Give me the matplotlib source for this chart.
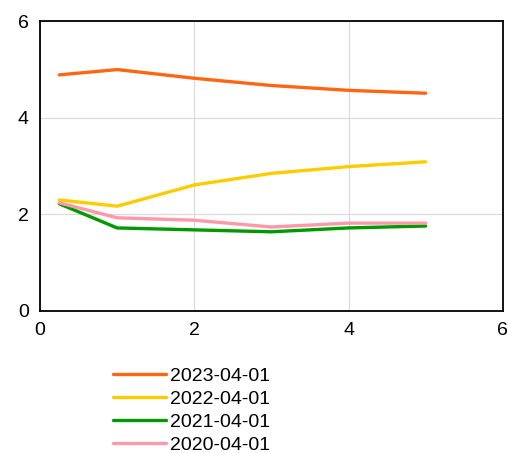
import matplotlib.pyplot as plt

plt.rcParams['font.family'] = ['Liberation Sans', 'DejaVu Sans']

x = [0.25, 1, 2, 3, 4, 5]
labels = ['2023-04-01', '2022-04-01', '2021-04-01', '2020-04-01']
y2023 = [4.89, 5.00, 4.82, 4.67, 4.57, 4.51]
y2022 = [2.30, 2.17, 2.61, 2.85, 2.99, 3.09]
y2021 = [2.22, 1.72, 1.68, 1.64, 1.72, 1.76]
y2020 = [2.24, 1.93, 1.88, 1.74, 1.82, 1.82]
colors = ['#FF6611', '#FFCC00', '#009900', '#FF99AA']

fig = plt.figure(figsize=(5.08, 4.53), dpi=100)
ax = fig.add_axes([0.0787, 0.3135, 0.911, 0.6395])

for ys, lab, c in zip([y2023, y2022, y2021, y2020], labels, colors):
    ax.plot(x, ys, color=c, lw=2.4, label=lab, solid_capstyle='round')

ax.set_xlim(0, 6)
ax.set_ylim(0, 6)
ax.set_xticks([0, 2, 4, 6])
ax.set_yticks([0, 2, 4, 6])
ax.grid(True, color='#D9D9D9', lw=0.8)
ax.set_axisbelow(True)
ax.tick_params(length=0, labelsize=14, pad=8)
for s in ax.spines.values():
    s.set_color('black')
    s.set_linewidth(1.3)

fig.legend(loc='upper left', bbox_to_anchor=(0.222, 0.19), frameon=False,
           fontsize=14, handlelength=2.75, handletextpad=0.2,
           labelspacing=0.29, borderpad=0, borderaxespad=0)

fig.savefig('out.png', dpi=100)
